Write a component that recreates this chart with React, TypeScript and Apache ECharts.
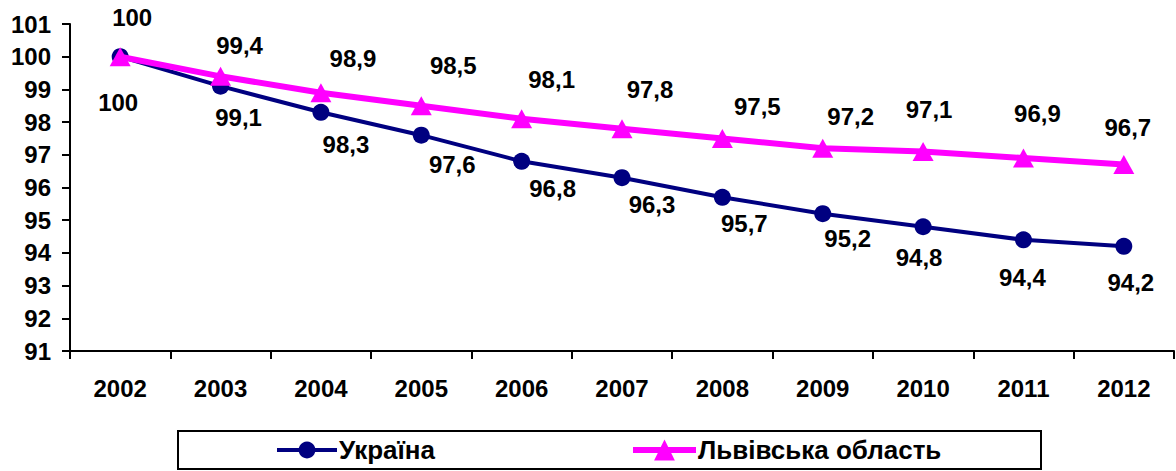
import React, { useEffect, useRef } from "react";
import * as echarts from "echarts";

const years = ["2002", "2003", "2004", "2005", "2006", "2007", "2008", "2009", "2010", "2011", "2012"];
const ukraine = [100, 99.1, 98.3, 97.6, 96.8, 96.3, 95.7, 95.2, 94.8, 94.4, 94.2];
const lviv = [100, 99.4, 98.9, 98.5, 98.1, 97.8, 97.5, 97.2, 97.1, 96.9, 96.7];
const yMin = 91;
const yMax = 101;
const yStep = 1;

// label placement (style only): offsets of each label from its point
const ukrLabelOffsets = [
  [-2, 46], [18, 31], [25, 32], [31, 29], [31, 27], [30, 27], [22, 26], [25, 25], [-4, 31], [-1, 38], [7, 36],
];
const lvivLabelOffsets = [
  [12, -39], [19, -31], [32, -34], [32, -40], [30, -39], [28, -39], [35, -32], [28, -32], [6, -42], [14, -45], [4, -37],
];

const FONT = "Liberation Sans, Arial, sans-serif";
const FS = 24;
const fmt = (v: number) => String(v).replace(".", ",");

export default function App() {
  const ref = useRef<HTMLDivElement>(null);
  useEffect(() => {
    document.body.style.margin = "0";
    if (!ref.current) return;
    const chart = echarts.init(ref.current, null, { renderer: "svg" });
    const labelStyle = {
      show: true,
      position: "inside",
      fontFamily: FONT,
      fontWeight: "bold",
      fontSize: FS,
      color: "#000",
      formatter: (p: any) => fmt(p.value),
    };
    const textStyle = { fontFamily: FONT, fontWeight: "bold", fontSize: 26, color: "#000", padding: [0, 0, 0, -3] };
    chart.setOption({
      animation: false,
      backgroundColor: "#fff",
      grid: { left: 70, right: 2, top: 24, bottom: 120, containLabel: false },
      xAxis: {
        type: "category",
        data: years,
        boundaryGap: true,
        axisLine: { show: true, lineStyle: { color: "#000", width: 2 } },
        axisTick: { show: true, length: 8, lineStyle: { color: "#000", width: 2 } },
        axisLabel: { margin: 25, fontFamily: FONT, fontWeight: "bold", fontSize: FS, color: "#000" },
        splitLine: { show: false },
      },
      yAxis: {
        type: "value",
        min: yMin,
        max: yMax,
        interval: yStep,
        axisLine: { show: true, lineStyle: { color: "#000", width: 2 } },
        axisTick: { show: true, length: 8, lineStyle: { color: "#000", width: 2 } },
        axisLabel: { margin: 19, fontFamily: FONT, fontWeight: "bold", fontSize: FS, color: "#000" },
        splitLine: { show: false },
      },
      legend: [
        {
          data: ["Україна"],
          left: 275,
          top: 437,
          itemWidth: 60,
          itemHeight: 21,
          itemGap: 0,
          padding: 0,
          lineStyle: { width: 4 },
          textStyle,
        },
        {
          data: ["Львівська область"],
          left: 630,
          top: 437,
          itemWidth: 63,
          itemHeight: 26,
          itemGap: 0,
          padding: 0,
          lineStyle: { width: 6 },
          textStyle,
        },
      ],
      graphic: [
        {
          type: "rect",
          shape: { x: 178, y: 431, width: 863, height: 38 },
          style: { fill: "none", stroke: "#000", lineWidth: 2 },
          silent: true,
        },
      ],
      series: [
        {
          name: "Україна",
          type: "line",
          data: ukraine.map((v, i) => ({
            value: v,
            label: { offset: ukrLabelOffsets[i] },
          })),
          symbol: "circle",
          symbolSize: 17,
          lineStyle: { color: "#000080", width: 4 },
          itemStyle: { color: "#000080" },
          label: labelStyle,
          z: 2,
        },
        {
          name: "Львівська область",
          type: "line",
          data: lviv.map((v, i) => ({
            value: v,
            label: { offset: lvivLabelOffsets[i] },
          })),
          symbol: "triangle",
          symbolSize: [21, 19],
          lineStyle: { color: "#FF00FF", width: 6 },
          itemStyle: { color: "#FF00FF" },
          label: labelStyle,
          z: 3,
        },
      ],
    });
    return () => chart.dispose();
  }, []);
  return <div ref={ref} style={{ width: 1176, height: 471 }} />;
}
